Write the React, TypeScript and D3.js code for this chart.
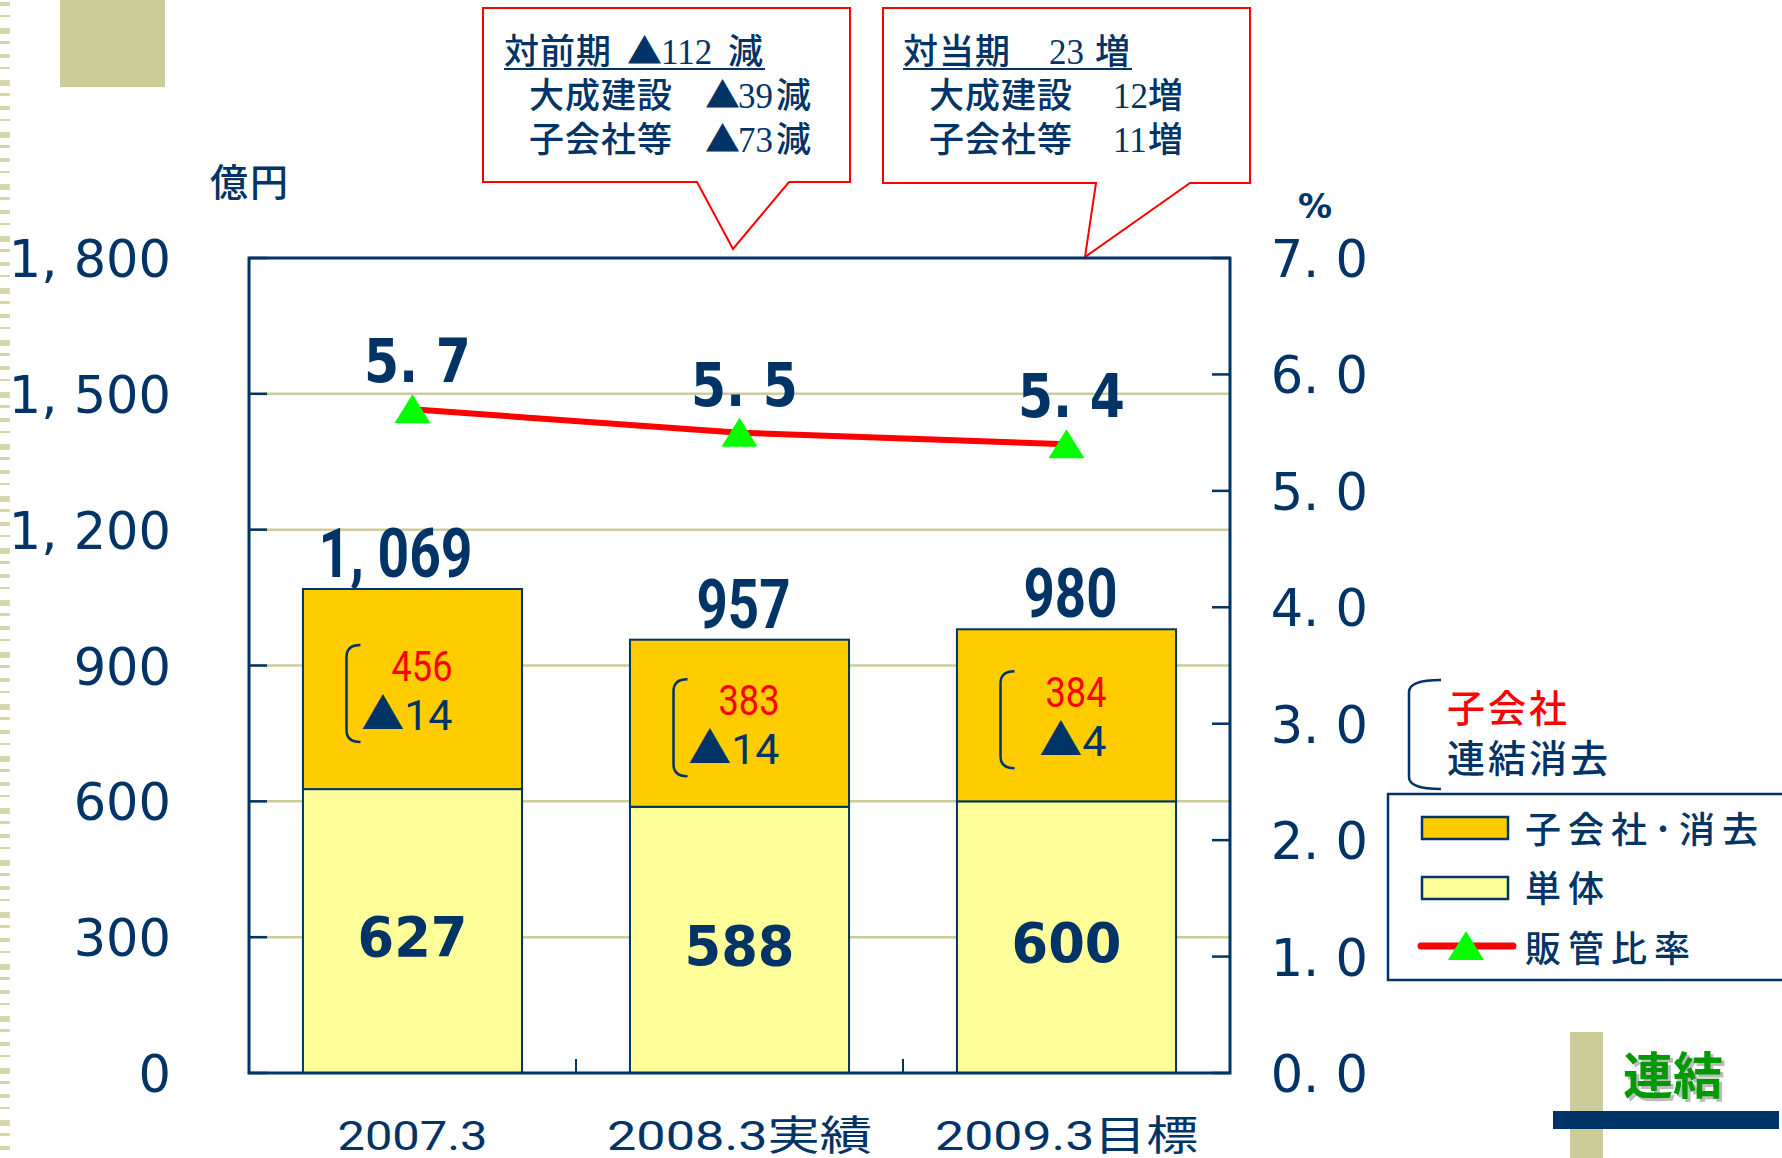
import React from "react";
import * as d3 from "d3";

// 販管費 chart (億円 / %)
const categories = ["2007.3", "2008.3実績", "2009.3目標"];
const tantai = [627, 588, 600]; // 単体
const totals = [1069, 957, 980]; // 連結合計
const subsidiary = [456, 383, 384]; // 子会社
const elimination = [14, 14, 4]; // 連結消去 (▲)
const sgaRatio = [5.7, 5.5, 5.4]; // 販管比率
const leftTicks = [0, 300, 600, 900, 1200, 1500, 1800];
const rightTicks = [0, 1, 2, 3, 4, 5, 6, 7];

const prevLines = [
  ["対前期", "▲", "112", "減"],
  ["大成建設", "▲", "39", "減"],
  ["子会社等", "▲", "73", "減"],
];
const planLines = [
  ["対当期", "", "23", "増"],
  ["大成建設", "", "12", "増"],
  ["子会社等", "", "11", "増"],
];

const NAVY = "#003366";
const KHAKI = "#cccc99";
const ORANGE = "#ffcc00";
const YELLOW = "#ffff99";
const JP = "'Noto Sans CJK JP', 'Noto Sans', sans-serif";
const WIDE = "'DejaVu Sans', 'Noto Sans', sans-serif";
const NARROW = "'Liberation Sans Narrow', Roboto, 'Noto Sans CJK JP', sans-serif";
const SERIF = "'Liberation Serif', 'DejaVu Serif', serif";

const W = 1782;
const H = 1158;
const plot = { left: 249, right: 1230, top: 258, bottom: 1073 };

const fmtLeft = (d: number) =>
  d >= 1000 ? d3.format(",")(d).replace(",", ", ") : String(d);
const fmtRight = (d: number) => d.toFixed(1).replace(".", ". ");

function Bracket({ x, y, h, w }: { x: number; y: number; h: number; w: number }) {
  const r = 12;
  const d = `M${x + w},${y} Q${x},${y} ${x},${y + r} V${y + h - r} Q${x},${y + h} ${x + w},${y + h}`;
  return <path d={d} fill="none" stroke={NAVY} strokeWidth={2.5} />;
}

function Triangle({ cx, cy }: { cx: number; cy: number }) {
  return (
    <path
      d={`M${cx},${cy - 15} L${cx + 18},${cy + 14} L${cx - 18},${cy + 14} Z`}
      fill="#00ff00"
    />
  );
}

function Callout({
  path,
  lines,
  xs,
}: {
  path: string;
  lines: string[][];
  xs: number[][];
}) {
  const baselines = [64, 108, 152];
  return (
    <g>
      <path d={path} fill="#fff" stroke="#ff0000" strokeWidth={2} />
      {lines.map((ln, i) => {
        const [lx, tx, nx, sx] = xs[i === 0 ? 0 : 1];
        return (
          <g key={i} fill={NAVY} fontSize={35}>
            <text x={lx} y={baselines[i]} fontFamily={JP} fontWeight={500} letterSpacing={1}>{ln[0]}</text>
            {ln[1] && (
              <text x={tx} y={baselines[i]} fontFamily={JP}>{ln[1]}</text>
            )}
            <text x={nx} y={baselines[i]} fontFamily={SERIF}>{ln[2]}</text>
            <text x={sx} y={baselines[i]} fontFamily={JP} fontWeight={500}>{ln[3]}</text>
          </g>
        );
      })}
      <line
        x1={xs[0][0]}
        x2={xs[0][4]}
        y1={69}
        y2={69}
        stroke={NAVY}
        strokeWidth={2}
      />
    </g>
  );
}

export default function App() {
  const x = d3
    .scaleBand<string>()
    .domain(categories)
    .range([plot.left, plot.right])
    .paddingInner(0.33)
    .paddingOuter(0.165);
  const y = d3.scaleLinear().domain([0, 1800]).range([plot.bottom, plot.top]);
  const yR = d3.scaleLinear().domain([0, 7]).range([plot.bottom, plot.top]);
  const bw = x.bandwidth();
  const cx = (c: string) => (x(c) as number) + bw / 2;

  const linePath = d3
    .line<number>()
    .x((_, i) => cx(categories[i]))
    .y((d) => yR(d))(sgaRatio) as string;

  const stripes = d3.range(2, H, 13);

  return (
    <svg
      width={W}
      height={H}
      style={{ position: "absolute", left: 0, top: 0, background: "#fff" }}
    >
      {/* decoration */}
      {stripes.map((s, i) => (
        <rect key={i} x={0} y={s} width={10} height={[4, 2, 6, 3][i % 4]} fill={KHAKI} opacity={0.8} />
      ))}
      <rect x={60} y={0} width={105} height={87} fill={KHAKI} />
      <rect x={1570} y={1032} width={33} height={126} fill={KHAKI} />
      <rect x={1553} y={1111} width={226} height={18} fill={NAVY} />
      <text x={1626} y={1097} fontFamily={JP} fontWeight={700} fontSize={50} fill="#bbb">連結</text>
      <text x={1623} y={1094} fontFamily={JP} fontWeight={700} fontSize={50} fill="#009900">連結</text>

      {/* callouts */}
      <Callout
        path="M483,8 H850 V182 H789 L733,249 L697,182 H483 Z"
        lines={prevLines}
        xs={[
          [504, 627, 661, 728, 765],
          [529, 705, 738, 776, 812],
        ]}
      />
      <Callout
        path="M883,8 H1250 V183 H1190 L1085,257 L1096,183 H883 Z"
        lines={planLines}
        xs={[
          [903, 0, 1049, 1095, 1132],
          [929, 0, 1113, 1148, 1182],
        ]}
      />

      {/* units */}
      <text x={210} y={196} fontFamily={JP} fontWeight={500} fontSize={38} fill={NAVY} letterSpacing={2}>億円</text>
      <text x={1315} y={218} textAnchor="middle" fontFamily={WIDE} fontWeight={700} fontSize={34} fill={NAVY}>%</text>

      {/* gridlines */}
      {leftTicks.slice(1, -1).map((t) => (
        <line key={t} x1={plot.left} x2={plot.right} y1={y(t)} y2={y(t)} stroke={KHAKI} strokeWidth={2.5} />
      ))}

      {/* bars */}
      {categories.map((c, i) => {
        const x0 = x(c) as number;
        const segTop = y(totals[i]);
        const segMid = (y(tantai[i]) + segTop) / 2;
        const baseMid = (y(0) + y(tantai[i])) / 2;
        const center = cx(c);
        const big = totals[i] >= 1000;
        return (
          <g key={c}>
            <rect x={x0} y={y(tantai[i])} width={bw} height={y(0) - y(tantai[i])} fill={YELLOW} stroke={NAVY} strokeWidth={2} />
            <rect x={x0} y={segTop} width={bw} height={y(tantai[i]) - segTop} fill={ORANGE} stroke={NAVY} strokeWidth={2} />
            <text x={center} y={baseMid + 25} textAnchor="middle" fontFamily={WIDE} fontWeight={700} fontSize={56} fill={NAVY} textLength={110} lengthAdjust="spacingAndGlyphs">
              {tantai[i]}
            </text>
            <Bracket x={center - 66} y={segMid - 44} h={97} w={14} />
            <text x={center + 40} y={segMid - 8} textAnchor="end" fontFamily={NARROW} fontSize={43} fill="#ff0000" textLength={61} lengthAdjust="spacingAndGlyphs">
              {subsidiary[i]}
            </text>
            <text x={center + 40} y={segMid + 41} textAnchor="end" fontFamily={NARROW} fontSize={43} fill={NAVY}>
              <tspan fontFamily={JP}>▲</tspan>
              <tspan>{elimination[i]}</tspan>
            </text>
            <text x={big ? center - 17 : center + 4} y={segTop - 12} textAnchor="middle" fontFamily={NARROW} fontWeight={700} fontSize={68} fill={NAVY} textLength={big ? 154 : 94} lengthAdjust="spacingAndGlyphs">
              {fmtLeft(totals[i])}
            </text>
          </g>
        );
      })}

      {/* frame */}
      <rect x={plot.left} y={plot.top} width={plot.right - plot.left} height={plot.bottom - plot.top} fill="none" stroke={NAVY} strokeWidth={3} />
      {leftTicks.map((t) => (
        <g key={t}>
          <line x1={plot.left} x2={plot.left + 18} y1={y(t)} y2={y(t)} stroke={NAVY} strokeWidth={2.5} />
          <text x={171} y={y(t) + 19} textAnchor="end" fontFamily={WIDE} fontSize={51} fill={NAVY}>
            {fmtLeft(t)}
          </text>
        </g>
      ))}
      {rightTicks.map((t) => (
        <g key={t}>
          <line x1={plot.right - 18} x2={plot.right} y1={yR(t)} y2={yR(t)} stroke={NAVY} strokeWidth={2.5} />
          <text x={1368} y={yR(t) + 19} textAnchor="end" fontFamily={WIDE} fontSize={51} fill={NAVY}>
            {fmtRight(t)}
          </text>
        </g>
      ))}
      {[1, 2].map((k) => (
        <line key={k} x1={plot.left + x.step() * k} x2={plot.left + x.step() * k} y1={plot.bottom} y2={plot.bottom - 14} stroke={NAVY} strokeWidth={2} />
      ))}
      {categories.map((c, i) => (
        <text key={c} x={cx(c)} y={1150} textAnchor="middle" fontFamily={NARROW} fontSize={41} fill={NAVY} textLength={[150, 265, 263][i]} lengthAdjust="spacingAndGlyphs">
          {c}
        </text>
      ))}

      {/* ratio line */}
      <path d={linePath} fill="none" stroke="#ff0000" strokeWidth={6} />
      {sgaRatio.map((r, i) => (
        <g key={i}>
          <Triangle cx={cx(categories[i])} cy={yR(r)} />
          <text x={cx(categories[i]) + 5} y={yR(r) - 27} textAnchor="middle" fontFamily={WIDE} fontWeight={700} fontSize={60} fill={NAVY} textLength={107} lengthAdjust="spacingAndGlyphs">
            {fmtRight(r)}
          </text>
        </g>
      ))}

      {/* subsidiary bracket note */}
      <Bracket x={1409} y={680} h={109} w={32} />
      <text x={1447} y={722} fontFamily={JP} fontWeight={500} fontSize={38} fill="#ff0000" letterSpacing={3}>子会社</text>
      <text x={1447} y={772} fontFamily={JP} fontWeight={500} fontSize={38} fill={NAVY} letterSpacing={3}>連結消去</text>

      {/* legend */}
      <rect x={1388} y={794} width={420} height={186} fill="#fff" stroke={NAVY} strokeWidth={2.5} />
      <rect x={1422} y={817} width={86} height={22} fill={ORANGE} stroke={NAVY} strokeWidth={2.5} />
      <text x={1525} y={843} fontFamily={JP} fontWeight={500} fontSize={36} fill={NAVY} letterSpacing={7}>子会社･消去</text>
      <rect x={1422} y={877} width={86} height={22} fill={YELLOW} stroke={NAVY} strokeWidth={2.5} />
      <text x={1525} y={902} fontFamily={JP} fontWeight={500} fontSize={36} fill={NAVY} letterSpacing={7}>単体</text>
      <line x1={1421} x2={1513} y1={946} y2={946} stroke="#ff0000" strokeWidth={7} strokeLinecap="round" />
      <Triangle cx={1466} cy={946} />
      <text x={1525} y={962} fontFamily={JP} fontWeight={500} fontSize={36} fill={NAVY} letterSpacing={7}>販管比率</text>
    </svg>
  );
}
